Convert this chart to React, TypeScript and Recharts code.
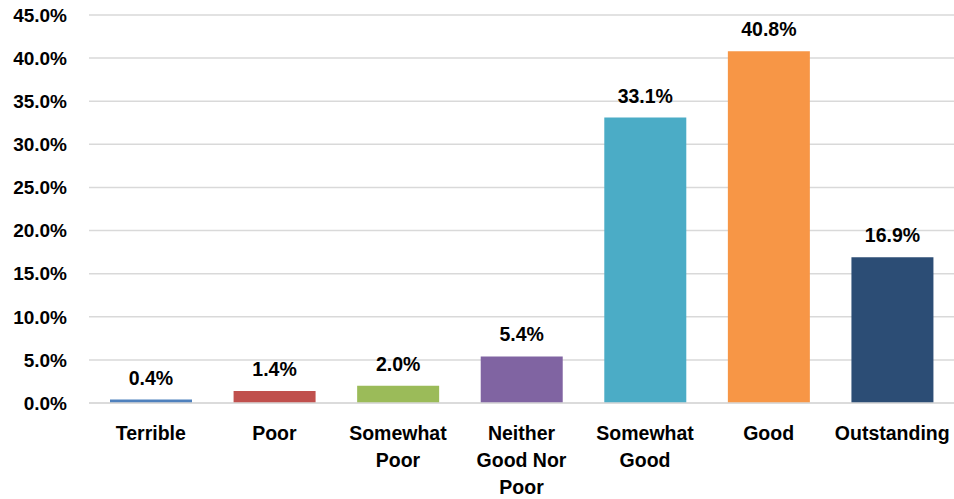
import React from 'react';
import { BarChart, Bar, XAxis, YAxis, CartesianGrid, Cell, LabelList } from 'recharts';

// categories, values and colours
const categories = ['Terrible', 'Poor', 'Somewhat\nPoor', 'Neither\nGood Nor\nPoor', 'Somewhat\nGood', 'Good', 'Outstanding'];
const shares = [0.4, 1.4, 2.0, 5.4, 33.1, 40.8, 16.9];
const barColors = ['#4F81BD', '#C0504D', '#9BBB59', '#8064A2', '#4BACC6', '#F79646', '#2C4D75'];
const yTicks = [0, 5, 10, 15, 20, 25, 30, 35, 40, 45];

const data = categories.map((name, i) => ({ name, share: shares[i] }));

const FONT = '"Liberation Sans", Arial, sans-serif';

const CategoryTick = (props: any) => {
  const { x, y, payload } = props;
  const lines = String(payload.value).split('\n');
  return (
    <g transform={`translate(${x},${y})`}>
      {lines.map((line: string, i: number) => (
        <text
          key={i}
          x={0}
          y={i * 27}
          dy={14}
          textAnchor="middle"
          fill="#000"
          fontFamily={FONT}
          fontWeight="bold"
          fontSize={19.5}
        >
          {line}
        </text>
      ))}
    </g>
  );
};

const App: React.FC = () => {
  return (
    <div style={{ position: 'absolute', left: 0, top: 0, width: 954, height: 499, background: '#fff' }}>
      <BarChart
        width={954}
        height={499}
        data={data}
        margin={{ top: 15, right: 0, left: 0, bottom: 0 }}
        barCategoryGap="17%"
      >
        <CartesianGrid vertical={false} stroke="#d9d9d9" strokeWidth={1.5} />
        <XAxis
          dataKey="name"
          interval={0}
          height={96}
          axisLine={{ stroke: '#d9d9d9', strokeWidth: 1.5 }}
          tickLine={false}
          tickSize={0}
          tickMargin={23}
          tick={<CategoryTick />}
        />
        <YAxis
          width={89}
          domain={[0, 45]}
          ticks={yTicks}
          interval={0}
          axisLine={false}
          tickLine={false}
          tickSize={0}
          tickMargin={22}
          tickFormatter={(v: number) => `${v.toFixed(1)}%`}
          tick={{ fill: '#000', fontFamily: FONT, fontWeight: 'bold', fontSize: 19 }}
        />
        <Bar dataKey="share" isAnimationActive={false}>
          {data.map((d, i) => (
            <Cell key={d.name} fill={barColors[i]} />
          ))}
          <LabelList
            dataKey="share"
            position="top"
            offset={15}
            formatter={(v: any) => `${Number(v).toFixed(1)}%`}
            style={{ fill: '#000', fontFamily: FONT, fontWeight: 'bold', fontSize: 19.5 }}
          />
        </Bar>
      </BarChart>
    </div>
  );
};

export default App;
